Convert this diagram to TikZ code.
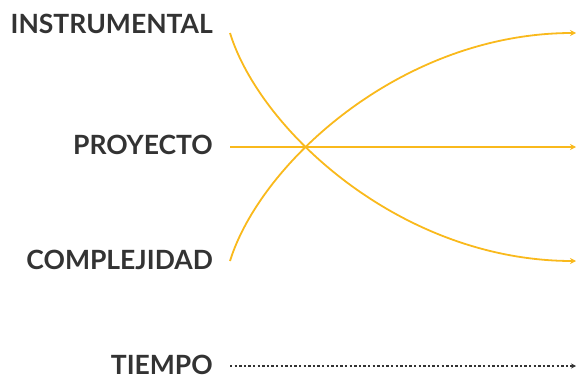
\documentclass[tikz,border=0pt]{standalone}
\usepackage{fontspec}
\setmainfont{Lato}
\usetikzlibrary{arrows.meta}
\definecolor{curvecol}{RGB}{249,185,28}
\definecolor{labcol}{RGB}{51,51,51}
\begin{document}
\begin{tikzpicture}[x=1pt,y=-1pt,
  lab/.style={anchor=base east, inner sep=0pt, font=\fontsize{26.5}{26.5}\selectfont\bfseries, text=labcol},
  curve/.style={curvecol, line width=1.8pt, -{Stealth[length=6pt,width=6pt]}},
  timeline/.style={labcol, line width=1.4pt, dash pattern=on 2.4pt off 2.2pt, -{Stealth[length=5pt,width=5pt]}}]
\useasboundingbox (0,0) rectangle (576,380);
\node[lab] (lab0) at (213,33){INSTRUMENTAL};
\node[lab] (lab1) at (213,154){PROYECTO};
\node[lab] (lab2) at (213,269){COMPLEJIDAD};
\node[lab] (lab3) at (213,374.5){TIEMPO};
\coordinate (lft0) at (230,33);
\coordinate (lft1) at (230,147);
\coordinate (lft2) at (230,261);
\coordinate (lft3) at (230,366);
\coordinate (rgt0) at (576,33);
\coordinate (rgt1) at (576,147);
\coordinate (rgt2) at (576,261);
\coordinate (rgt3) at (576,366);
\draw[curve](lft0) .. controls +(30,97) and +(-175,0) .. (rgt2);
\draw[curve](lft1) -- (rgt1);
\draw[curve](lft2) .. controls +(30,-97) and +(-175,0) .. (rgt0);
\draw[timeline](lft3) -- (rgt3);
\end{tikzpicture}
\end{document}
